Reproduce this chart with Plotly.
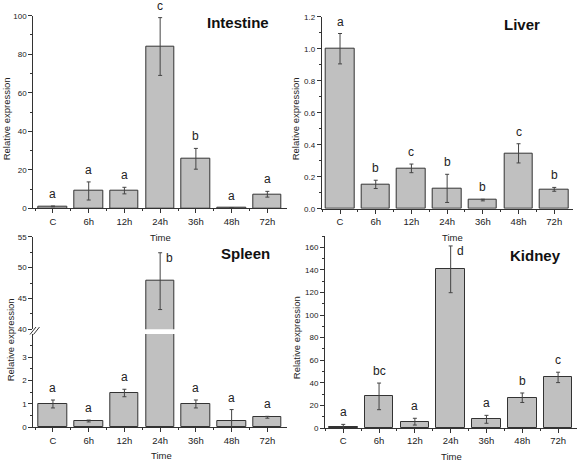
import plotly.graph_objects as go

W, H = 579, 462

time_points = ["C", "6h", "12h", "24h", "36h", "48h", "72h"]

intestine_values = [1.0, 9.0, 9.2, 84.0, 25.7, 0.3, 7.3]
intestine_errors = [0.2, 4.7, 1.7, 15.0, 5.4, 0.1, 1.5]
intestine_letters = ["a", "a", "a", "c", "b", "a", "a"]

liver_values = [1.0, 0.152, 0.252, 0.127, 0.054, 0.346, 0.121]
liver_errors = [0.095, 0.026, 0.027, 0.088, 0.005, 0.06, 0.012]
liver_letters = ["a", "b", "c", "b", "b", "c", "b"]

spleen_values = [1.0, 0.27, 1.47, 47.8, 1.0, 0.26, 0.43]
spleen_errors = [0.17, 0.04, 0.16, 4.6, 0.17, 0.5, 0.04]
spleen_letters = ["a", "a", "a", "b", "a", "a", "a"]

kidney_values = [1.2, 28.0, 5.6, 140.5, 7.7, 26.8, 44.8]
kidney_errors = [2.0, 11.8, 3.0, 20.7, 3.5, 4.2, 4.6]
kidney_letters = ["a", "bc", "a", "d", "a", "b", "c"]

FONT = "Liberation Sans, Arial, sans-serif"
TXT = "#222222"
LINE = "#333333"
BAR_FILL = "#c0c0c0"

xpos = list(range(len(time_points)))


def px(x):
    return x / W


def py(y):
    return (H - y) / H


fig = go.Figure()


def add_bars(values, errors, xa, ya):
    fig.add_trace(go.Bar(
        x=xpos, y=values, width=0.8,
        marker=dict(color=BAR_FILL, line=dict(color=LINE, width=1)),
        error_y=dict(type="data", array=errors, visible=True,
                     color="#444444", thickness=1, width=2),
        xaxis=xa, yaxis=ya, showlegend=False, hoverinfo="x+y",
    ))


add_bars(intestine_values, intestine_errors, "x", "y")
add_bars(liver_values, liver_errors, "x2", "y2")
add_bars(spleen_values, spleen_errors, "x3", "y3")
add_bars(spleen_values, spleen_errors, "x4", "y4")
add_bars(kidney_values, kidney_errors, "x5", "y5")

common_axis = dict(
    showline=True, linecolor=LINE, linewidth=1,
    ticks="outside", ticklen=4, tickwidth=1, tickcolor=LINE,
    showgrid=False, zeroline=False, automargin=False,
)


def xaxis_def(domain, rng, anchor, visible=True):
    d = dict(common_axis)
    d.update(domain=domain, range=rng, anchor=anchor,
             tickmode="array", tickvals=xpos, ticktext=time_points,
             tickfont=dict(family=FONT, size=9.5, color=TXT),
             minor=dict(ticks="outside", ticklen=2, tickcolor=LINE,
                        tickmode="array",
                        tickvals=[i + 0.5 for i in xpos[:-1]] + [-0.5]),
             visible=visible)
    return d


def yaxis_def(domain, rng, anchor, tickvals, minor_vals, fmt=None):
    d = dict(common_axis)
    d.update(domain=domain, range=rng, anchor=anchor,
             tickmode="array", tickvals=tickvals,
             tickfont=dict(family=FONT, size=8, color=TXT),
             minor=dict(ticks="outside", ticklen=2, tickcolor=LINE,
                        tickmode="array", tickvals=minor_vals))
    if fmt:
        d["tickformat"] = fmt
    return d


left_dom = [px(33.3), px(287)]
right_dom_top = [px(321.7), px(572.7)]
right_dom_bot = [px(325), px(576.7)]

fig.update_layout(
    width=W, height=H,
    margin=dict(l=0, r=0, t=0, b=0),
    paper_bgcolor="white", plot_bgcolor="white",
    bargap=0,
    font=dict(family=FONT, color=TXT),
    xaxis=xaxis_def(left_dom, [-0.55, 6.55], "y"),
    yaxis=yaxis_def([py(208.3), py(15.7)], [0, 100], "x",
                    [0, 20, 40, 60, 80, 100], [10, 30, 50, 70, 90]),
    xaxis2=xaxis_def(right_dom_top, [-0.513, 6.517], "y2"),
    yaxis2=yaxis_def([py(208.7), py(16.7)], [0, 1.2], "x2",
                     [0, 0.2, 0.4, 0.6, 0.8, 1.0, 1.2],
                     [0.1, 0.3, 0.5, 0.7, 0.9, 1.1], ".1f"),
    xaxis3=xaxis_def(left_dom, [-0.55, 6.55], "y3"),
    yaxis3=yaxis_def([py(427.3), py(334)], [0, 4], "x3",
                     [0, 1, 2, 3], [0.5, 1.5, 2.5, 3.5]),
    xaxis4=xaxis_def(left_dom, [-0.55, 6.55], "y4", visible=False),
    yaxis4=yaxis_def([py(329.3), py(236.7)], [40, 55], "x4",
                     [40, 45, 50, 55], [42.5, 47.5, 52.5]),
    xaxis5=xaxis_def(right_dom_bot, [-0.51, 6.52], "y5"),
    yaxis5=yaxis_def([py(428), py(236)], [0, 170], "x5",
                     [0, 20, 40, 60, 80, 100, 120, 140, 160],
                     [10, 30, 50, 70, 90, 110, 130, 150, 170]),
)

annotations = []

# significance letters (the 24h letter of Spleen/Kidney sits beside its error bar)
beside = {"y5": 3}


def letter(i, v, e, t, xa, ya, side):
    if side:
        return dict(x=i, y=v + e, xref=xa, yref=ya, text=t, showarrow=False,
                    xanchor="left", yanchor="top", xshift=4, yshift=4,
                    font=dict(family=FONT, size=12, color=TXT))
    return dict(x=i, y=v + e, xref=xa, yref=ya, text=t, showarrow=False,
                xanchor="center", yanchor="bottom", yshift=3,
                font=dict(family=FONT, size=12, color=TXT))


def add_letters(values, errors, letters, xa, ya):
    for i, (v, e, t) in enumerate(zip(values, errors, letters)):
        annotations.append(letter(i, v, e, t, xa, ya, beside.get(ya) == i))


add_letters(intestine_values, intestine_errors, intestine_letters, "x", "y")
add_letters(liver_values, liver_errors, liver_letters, "x2", "y2")
# spleen: small values go to the lower axis, the 24h one to the upper axis
for i, (v, e, t) in enumerate(zip(spleen_values, spleen_errors, spleen_letters)):
    if v >= 40:
        annotations.append(letter(i, v, e, t, "x4", "y4", True))
    else:
        annotations.append(letter(i, v, e, t, "x3", "y3", False))
add_letters(kidney_values, kidney_errors, kidney_letters, "x5", "y5")

# panel titles
for name, cx, cy in [("Intestine", 238, 22), ("Liver", 521.7, 24),
                     ("Spleen", 245, 253), ("Kidney", 535.7, 255)]:
    annotations.append(dict(
        x=px(cx), y=py(cy), xref="paper", yref="paper", text=f"<b>{name}</b>",
        showarrow=False, xanchor="center", yanchor="middle",
        font=dict(family=FONT, size=15, color="#111111")))

# axis titles
for cx, cy in [(160, 237), (452, 237), (161, 455), (451, 456)]:
    annotations.append(dict(
        x=px(cx), y=py(cy), xref="paper", yref="paper", text="Time",
        showarrow=False, xanchor="center", yanchor="middle",
        font=dict(family=FONT, size=9.5, color=TXT)))
for cx, cy in [(6.3, 119), (295.3, 119), (10.3, 340), (296.2, 338)]:
    annotations.append(dict(
        x=px(cx), y=py(cy), xref="paper", yref="paper",
        text="Relative expression", textangle=-90,
        showarrow=False, xanchor="center", yanchor="middle",
        font=dict(family=FONT, size=9.5, color=TXT)))

fig.update_layout(annotations=annotations)

# axis break marks on spleen y axis
shapes = []
for dx in (0, 3.5):
    shapes.append(dict(type="line", xref="paper", yref="paper",
                       x0=px(30 + dx), y0=py(334.5), x1=px(36 + dx), y1=py(327),
                       line=dict(color=LINE, width=1)))
fig.update_layout(shapes=shapes)

fig.write_html(
    "out.html",
    config={"displayModeBar": False},
    post_script="document.body.style.margin='0';document.body.style.overflow='hidden';",
)
